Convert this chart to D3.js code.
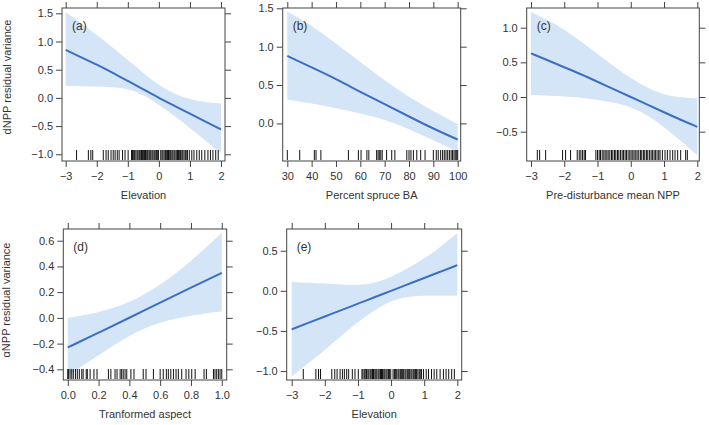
<!DOCTYPE html>
<html>
<head>
<meta charset="utf-8">
<script src="https://cdn.jsdelivr.net/npm/d3@7"></script>
<style>
  html, body { margin: 0; padding: 0; background: #fff; }
  svg { display: block; }
  text { font-family: "Liberation Sans", Arial, sans-serif; fill: #333; }
</style>
</head>
<body>
<svg id="chart" width="709" height="425"></svg>
<script>
// ---------------- data ----------------
// (a) dNPP vs Elevation
const aX = [-3, -2.5, -2, -1.5, -1, -0.5, 0, 0.5, 1, 1.5, 2];
const aFit = [0.85, 0.72, 0.59, 0.45, 0.30, 0.15, 0.0, -0.14, -0.28, -0.42, -0.56];
const aUpper = [1.52, 1.32, 1.12, 0.90, 0.67, 0.44, 0.22, 0.07, -0.03, -0.08, -0.10];
const aLower = [0.21, 0.21, 0.20, 0.19, 0.16, 0.06, -0.12, -0.32, -0.53, -0.76, -0.98];

// (b) dNPP vs Percent spruce BA
const bX = [30, 40, 50, 60, 70, 80, 90, 100];
const bFit = [0.88, 0.73, 0.58, 0.41, 0.25, 0.09, -0.07, -0.21];
const bUpper = [1.46, 1.28, 1.04, 0.80, 0.56, 0.34, 0.16, -0.01];
const bLower = [0.31, 0.26, 0.20, 0.13, 0.05, -0.07, -0.22, -0.37];

// (c) dNPP vs Pre-disturbance mean NPP
const cX = [-3, -2.5, -2, -1.5, -1, -0.5, 0, 0.5, 1, 1.5, 2];
const cFit = [0.63, 0.53, 0.43, 0.33, 0.22, 0.11, 0.0, -0.11, -0.22, -0.33, -0.43];
const cUpper = [1.23, 1.11, 0.98, 0.80, 0.62, 0.44, 0.27, 0.13, 0.03, -0.01, -0.02];
const cLower = [0.03, 0.02, 0.01, -0.01, -0.04, -0.08, -0.14, -0.26, -0.43, -0.63, -0.84];

// (d) αNPP vs Transformed aspect
const dX = [0, 0.2, 0.4, 0.6, 0.8, 1.0];
const dFit = [-0.23, -0.115, 0.0, 0.12, 0.235, 0.35];
const dUpper = [0.0, 0.04, 0.115, 0.25, 0.44, 0.66];
const dLower = [-0.45, -0.29, -0.13, -0.03, 0.02, 0.05];

// (e) αNPP vs Elevation
const eX = [-3, -2.5, -2, -1.5, -1, -0.5, 0, 0.5, 1, 1.5, 2];
const eFit = [-0.48, -0.40, -0.32, -0.24, -0.16, -0.08, 0.0, 0.08, 0.16, 0.24, 0.32];
const eUpper = [0.11, 0.10, 0.09, 0.08, 0.07, 0.09, 0.17, 0.28, 0.40, 0.55, 0.72];
const eLower = [-1.07, -0.90, -0.74, -0.56, -0.39, -0.24, -0.12, -0.07, -0.06, -0.06, -0.06];

// rug observations
const rugElevation = [-2.65, -2.27, -2.19, -2.13, -1.79, -1.70, -1.63, -1.54, -1.47, -1.41, -1.34, -1.28,
  -1.17, -1.09, -0.99, -0.88, -0.85, -0.81, -0.78, -0.74, -0.70, -0.67, -0.63, -0.60, -0.56, -0.53,
  -0.49, -0.46, -0.43, -0.39, -0.36, -0.32, -0.29, -0.26, -0.22, -0.19, -0.15, -0.12, -0.08, -0.05,
  -0.01, 0.06, 0.10, 0.13, 0.17, 0.21, 0.24, 0.28, 0.31, 0.35, 0.38, 0.42, 0.45, 0.49, 0.52, 0.56,
  0.60, 0.63, 0.67, 0.70, 0.74, 0.77, 0.81, 0.85, 0.88, 0.92, 0.98, 1.06, 1.13, 1.22, 1.30, 1.38,
  1.48, 1.58, 1.66, 1.74, 1.83, 1.91];
const rugSpruce = [30, 35.1, 41.1, 41.8, 43.8, 55.1, 59.2, 60.3, 62.7, 63.5, 66.7, 67.3, 67.8, 68.4,
  69.0, 70.8, 72.9, 74.2, 79.1, 80.0, 80.8, 81.8, 83.2, 84.8, 86.6, 90.0, 91.2, 92.0, 93.0, 93.8,
  94.5, 95.2, 95.9, 96.6, 97.3, 97.9, 98.5, 99.0, 99.6, 100];
const rugNPP = [-2.81, -2.74, -2.56, -2.05, -1.96, -1.81, -1.61, -1.55, -1.50, -1.45, -1.40, -1.36,
  -1.05, -1.00, -0.95, -0.91, -0.86, -0.81, -0.77, -0.72, -0.68, -0.63, -0.58, -0.54, -0.49, -0.45,
  -0.40, -0.36, -0.31, -0.26, -0.22, -0.17, -0.13, -0.08, -0.03, 0.01, 0.06, 0.10, 0.15, 0.19, 0.24,
  0.29, 0.33, 0.38, 0.42, 0.47, 0.51, 0.56, 0.61, 0.65, 0.70, 0.74, 0.79, 0.84, 0.88, 0.95, 1.03,
  1.10, 1.18, 1.26, 1.33, 1.41, 1.50, 1.65, 1.70];
const rugAspect = [0.0, 0.004, 0.015, 0.026, 0.036, 0.05, 0.062, 0.075, 0.091, 0.10, 0.12, 0.127,
  0.145, 0.17, 0.19, 0.264, 0.28, 0.307, 0.32, 0.34, 0.35, 0.36, 0.372, 0.383, 0.41, 0.43, 0.49,
  0.508, 0.556, 0.60, 0.62, 0.64, 0.653, 0.669, 0.686, 0.703, 0.718, 0.74, 0.768, 0.786, 0.805,
  0.827, 0.885, 0.90, 0.946, 0.956, 0.967, 0.978, 0.989, 1.0];

// tick labels
const ticksElevation = [-3, -2, -1, 0, 1, 2];
const ticksSpruce = [30, 40, 50, 60, 70, 80, 90, 100];
const ticksAspect = [0, 0.2, 0.4, 0.6, 0.8, 1.0];
const yTicksA = [-1, -0.5, 0, 0.5, 1, 1.5];
const yTicksB = [0, 0.5, 1, 1.5];
const yTicksC = [-0.5, 0, 0.5, 1];
const yTicksD = [-0.4, -0.2, 0, 0.2, 0.4, 0.6];
const yTicksE = [-1, -0.5, 0, 0.5];

const panelLabels = ["(a)", "(b)", "(c)", "(d)", "(e)"];
const xTitles = ["Elevation", "Percent spruce BA", "Pre-disturbance mean NPP", "Tranformed aspect", "Elevation"];
const yTitles = ["dNPP residual variance", "αNPP residual variance"];

// ---------------- layout (positions only) ----------------
const panels = [
  { x: aX, fit: aFit, up: aUpper, lo: aLower, rug: rugElevation, xt: ticksElevation, yt: yTicksA,
    xf: d3.format("d"), xd: [-3.119, 2.129], yd: [-1.119, 1.594], box: [62, 8, 225, 161] },
  { x: bX, fit: bFit, up: bUpper, lo: bLower, rug: rugSpruce, xt: ticksSpruce, yt: yTicksB,
    xf: d3.format("d"), xd: [28.11, 101.24], yd: [-0.49, 1.504], box: [282.7, 8, 460.7, 161] },
  { x: cX, fit: cFit, up: cUpper, lo: cLower, rug: rugNPP, xt: ticksElevation, yt: yTicksC,
    xf: d3.format("d"), xd: [-3.129, 2.06], yd: [-0.923, 1.284], box: [526.7, 8, 699.3, 161] },
  { x: dX, fit: dFit, up: dUpper, lo: dLower, rug: rugAspect, xt: ticksAspect, yt: yTicksD,
    xf: d3.format(".1f"), xd: [-0.029, 1.032], yd: [-0.483, 0.691], box: [63.3, 229, 226.7, 380] },
  { x: eX, fit: eFit, up: eUpper, lo: eLower, rug: rugElevation, xt: ticksElevation, yt: yTicksE,
    xf: d3.format("d"), xd: [-3.151, 2.132], yd: [-1.112, 0.771], box: [286.7, 229, 461.7, 380] }
];

const svg = d3.select("#chart");
const lineCol = "#444";
const bandCol = "#d4e5f8";
const fitCol = "#3b6fc0";
const yf = d3.format(".1f");

panels.forEach((p, i) => {
  const [L, T, R, B] = p.box;
  const xs = d3.scaleLinear().domain(p.xd).range([L, R]);
  const ys = d3.scaleLinear().domain(p.yd).range([B, T]);
  const g = svg.append("g");
  const clipId = "clip" + i;
  svg.append("clipPath").attr("id", clipId).append("rect")
    .attr("x", L).attr("y", T).attr("width", R - L).attr("height", B - T);

  const pts = p.x.map((v, k) => ({ x: v, f: p.fit[k], u: p.up[k], l: p.lo[k] }));
  const area = d3.area().x(d => xs(d.x)).y0(d => ys(d.l)).y1(d => ys(d.u)).curve(d3.curveBasis);
  const line = d3.line().x(d => xs(d.x)).y(d => ys(d.f)).curve(d3.curveBasis);

  const inner = g.append("g").attr("clip-path", `url(#${clipId})`);
  inner.append("path").datum(pts).attr("d", area).attr("fill", bandCol);
  inner.append("path").datum(pts).attr("d", line).attr("fill", "none")
    .attr("stroke", fitCol).attr("stroke-width", 2);

  // rug
  inner.selectAll("line.rug").data(p.rug).enter().append("line")
    .attr("x1", d => xs(d)).attr("x2", d => xs(d))
    .attr("y1", B - 1).attr("y2", B - 11)
    .attr("stroke", "#111").attr("stroke-width", 1);

  // axes
  const styleAxis = sel => {
    sel.select(".domain").remove();
    sel.selectAll(".tick line").attr("stroke", lineCol);
    sel.selectAll(".tick text").style("font-size", "11px")
      .style("font-family", '"Liberation Sans", Arial, sans-serif').attr("fill", "#333");
  };
  g.append("g").attr("transform", `translate(0,${B})`)
    .call(d3.axisBottom(xs).tickValues(p.xt).tickFormat(p.xf).tickSize(6).tickPadding(5))
    .call(styleAxis);
  g.append("g").attr("transform", `translate(0,${T})`)
    .call(d3.axisTop(xs).tickValues(p.xt).tickFormat("").tickSize(6))
    .call(styleAxis);
  g.append("g").attr("transform", `translate(${L},0)`)
    .call(d3.axisLeft(ys).tickValues(p.yt).tickFormat(yf).tickSize(6).tickPadding(3))
    .call(styleAxis);
  g.append("g").attr("transform", `translate(${R},0)`)
    .call(d3.axisRight(ys).tickValues(p.yt).tickFormat("").tickSize(6))
    .call(styleAxis);

  // frame
  g.append("rect").attr("x", L).attr("y", T).attr("width", R - L).attr("height", B - T)
    .attr("fill", "none").attr("stroke", lineCol).attr("stroke-width", 1);

  // panel label
  g.append("text").attr("x", L + 10).attr("y", T + 22)
    .style("font-size", "12px").text(panelLabels[i]);

  // x title
  g.append("text").attr("x", (L + R) / 2).attr("y", B + 38)
    .attr("text-anchor", "middle").style("font-size", "11px").text(xTitles[i]);
});

// y titles
svg.append("text").attr("transform", "translate(11,77) rotate(-90)")
  .attr("text-anchor", "middle").style("font-size", "11px").text(yTitles[0]);
svg.append("text").attr("transform", "translate(10,300) rotate(-90)")
  .attr("text-anchor", "middle").style("font-size", "11px").text(yTitles[1]);
</script>
</body>
</html>
